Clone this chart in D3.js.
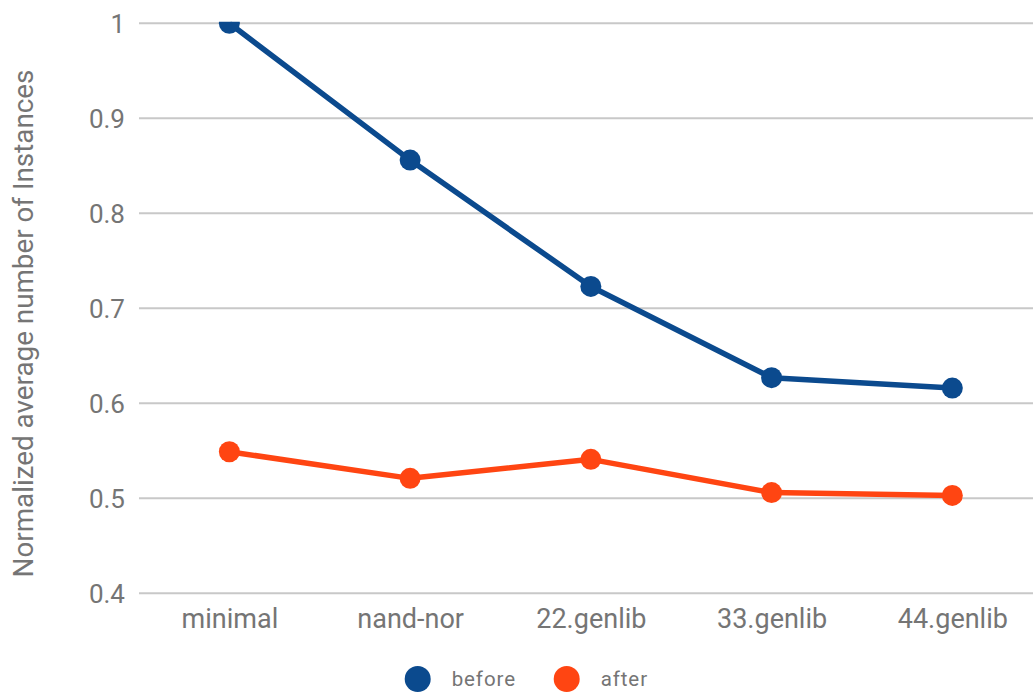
<!DOCTYPE html>
<html>
<head>
<meta charset="utf-8">
<script src="https://cdn.jsdelivr.net/npm/d3@7/dist/d3.min.js"></script>
<style>
  html, body { margin: 0; padding: 0; background: #fff; }
  svg text { font-family: Roboto, Arial, sans-serif; fill: #757575; }
</style>
</head>
<body>
<svg id="chart" width="1033" height="692"></svg>
<script>
// Libraries compared
const categories = ["minimal", "nand-nor", "22.genlib", "33.genlib", "44.genlib"];
// Normalized average number of instances per library
const before = [1.0, 0.856, 0.723, 0.627, 0.616];
const after = [0.549, 0.521, 0.541, 0.506, 0.503];
const yTicks = [0.4, 0.5, 0.6, 0.7, 0.8, 0.9, 1];
const seriesNames = ["before", "after"];
const seriesColors = ["#0b4a8e", "#ff4512"];

const svg = d3.select("#chart");
const plotLeft = 139, plotRight = 1042.7, plotTop = 23.3, plotBottom = 593.3;

const x = d3.scalePoint().domain(categories).range([plotLeft, plotRight]).padding(0.5);
const y = d3.scaleLinear().domain([0.4, 1]).range([plotBottom, plotTop]);

// horizontal gridlines
svg.append("g")
  .selectAll("line")
  .data(yTicks)
  .join("line")
  .attr("x1", plotLeft).attr("x2", 1033)
  .attr("y1", d => y(d)).attr("y2", d => y(d))
  .attr("stroke", "#c8c8c8").attr("stroke-width", 2);

// y tick labels
const yAxis = svg.append("g")
  .attr("transform", `translate(${plotLeft - 14},0)`)
  .call(d3.axisLeft(y).tickValues(yTicks).tickSize(0).tickPadding(0).tickFormat(d3.format("~g")));
yAxis.select(".domain").remove();
yAxis.selectAll("text")
  .attr("font-size", 26).attr("font-family", "Roboto, Arial, sans-serif")
  .attr("fill", "#757575").attr("dy", "0.35em");

// x tick labels
const xAxis = svg.append("g")
  .attr("transform", `translate(0,${plotBottom + 13})`)
  .call(d3.axisBottom(x).tickSize(0).tickPadding(0));
xAxis.select(".domain").remove();
xAxis.selectAll("text")
  .attr("font-size", 27).attr("font-family", "Roboto, Arial, sans-serif")
  .attr("fill", "#757575").attr("dy", "0.82em");

// y axis title
svg.append("text")
  .attr("transform", `translate(33,${(72 + 575) / 2}) rotate(-90)`)
  .attr("text-anchor", "middle")
  .attr("font-size", 27.8)
  .text("Normalized average number of Instances");

// clip the series to the plot area
svg.append("clipPath").attr("id", "plot-clip")
  .append("rect").attr("x", 0).attr("y", plotTop - 1.5).attr("width", 1033).attr("height", 692 - plotTop);

const plot = svg.append("g").attr("clip-path", "url(#plot-clip)");
const series = [before, after];
const line = d3.line().x((d, i) => x(categories[i])).y(d => y(d));

series.forEach((vals, s) => {
  plot.append("path")
    .datum(vals)
    .attr("d", line)
    .attr("fill", "none")
    .attr("stroke", seriesColors[s])
    .attr("stroke-width", 5.5)
    .attr("stroke-linejoin", "round");
  plot.append("g")
    .selectAll("circle")
    .data(vals)
    .join("circle")
    .attr("cx", (d, i) => x(categories[i]))
    .attr("cy", d => y(d))
    .attr("r", 10.5)
    .attr("fill", seriesColors[s]);
});

// legend
const legendX = [417.7, 566.7];
const legend = svg.append("g");
seriesNames.forEach((name, s) => {
  legend.append("circle")
    .attr("cx", legendX[s]).attr("cy", 679).attr("r", 13)
    .attr("fill", seriesColors[s]);
  legend.append("text")
    .attr("x", legendX[s] + 34).attr("y", 686)
    .attr("font-size", 20.5)
    .attr("letter-spacing", 0.9)
    .text(name);
});
</script>
</body>
</html>
